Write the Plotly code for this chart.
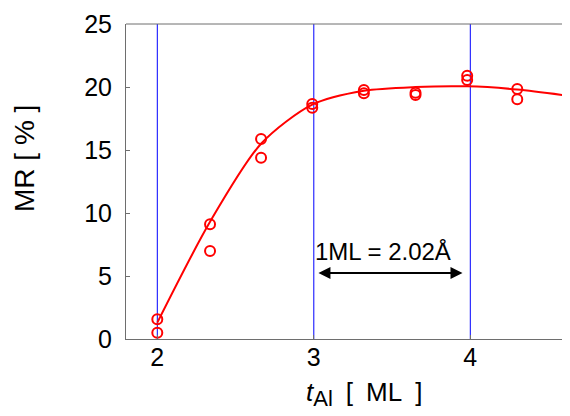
import plotly.graph_objects as go

# Data
t_al = [2.0, 2.337, 2.663, 2.99, 3.32, 3.65, 3.98, 4.30, 4.63]
mr_run1 = [1.56, 9.1, 15.87, 18.65, 19.76, 19.55, 20.9, 19.84, 20.56]
mr_run2 = [0.5, 6.98, 14.39, 18.36, 19.5, 19.37, 20.56, 19.02, 18.78]
fit_x = [2.0, 2.337, 2.663, 2.99, 3.32, 3.65, 3.98, 4.30, 4.63]
fit_y = [1.3, 9.3, 15.5, 18.6, 19.7, 20.0, 20.05, 19.8, 19.3]
x_ticks = [2, 3, 4]
y_ticks = [0, 5, 10, 15, 20, 25]
arrow_span = [3.02, 3.95]
arrow_y = 5.24
note_text = "1ML = 2.02Å"

FONT = "Liberation Sans, Arial, sans-serif"
RED = "#ff0000"
AXC = "#6e6e6e"

W, H = 562, 408          # page adds an 8px body margin
ML, MT, MB, MR = 118, 16, 77, 0

fig = go.Figure()
fig.add_trace(go.Scatter(x=fit_x, y=fit_y, mode="lines",
                         line=dict(color=RED, width=2, shape="spline", smoothing=0.8),
                         hoverinfo="skip", showlegend=False))
for ys in (mr_run1, mr_run2):
    fig.add_trace(go.Scatter(x=t_al, y=ys, mode="markers",
                             marker=dict(symbol="circle-open", size=10, color=RED,
                                         line=dict(width=2, color=RED)),
                             showlegend=False))

fig.update_layout(
    width=W, height=H,
    margin=dict(l=ML, r=MR, t=MT, b=MB, autoexpand=False),
    paper_bgcolor="white", plot_bgcolor="white",
    font=dict(family=FONT, size=25, color="black"),
    xaxis=dict(range=[1.8, 4.637], tickvals=x_ticks, ticks="inside", ticklen=4,
               tickcolor=AXC, showline=True, linecolor=AXC, linewidth=1,
               showgrid=False, zeroline=False,
               tickfont=dict(size=25), ticklabelstandoff=-4),
    yaxis=dict(range=[0, 25], tickvals=y_ticks, ticks="inside", ticklen=4,
               tickcolor=AXC, showline=True, linecolor=AXC, linewidth=1,
               showgrid=False, zeroline=False, tickfont=dict(size=25),
               ticklabelstandoff=8),
)

# blue vertical reference lines at the x ticks
for xv in x_ticks:
    fig.add_shape(type="line", xref="x", yref="paper", x0=xv, x1=xv, y0=0, y1=1,
                  line=dict(color="#0000ff", width=1), layer="below")

# top frame line
fig.add_shape(type="line", xref="paper", yref="paper", x0=0, x1=1, y0=1, y1=1,
              line=dict(color=AXC, width=1))

# double-headed arrow
fig.add_annotation(x=arrow_span[1], y=arrow_y, ax=arrow_span[0], ay=arrow_y,
                   xref="x", yref="y", axref="x", ayref="y", text="",
                   showarrow=True, arrowhead=2, arrowside="end+start",
                   arrowsize=1.2, arrowwidth=2, arrowcolor="black")
fig.add_annotation(x=arrow_span[0], y=5.8, xref="x", yref="y", text=note_text,
                   showarrow=False, xanchor="left", yanchor="bottom",
                   borderpad=0, xshift=-3,
                   font=dict(size=24, color="black"))

# axis titles (page pixel positions, minus 8px body margin)
pw, ph = W - ML - MR, H - MT - MB
def px2paper(px, py):
    return (px - 8 - ML) / pw, 1 - (py - 8 - MT) / ph

x0, y0 = px2paper(24, 159)
fig.add_annotation(x=x0, y=y0, xref="paper", yref="paper", text="MR [ % ]",
                   xanchor="center", yanchor="middle",
                   showarrow=False, textangle=-90, font=dict(size=28))
x1, y1 = px2paper(364, 394)
fig.add_annotation(x=x1, y=y1, xref="paper", yref="paper",
                   text="<i>t</i><sub><span style='font-size:22px'>Al</span></sub>"
                        "\u2002[\u2002ML\u2002]",
                   xanchor="center", yanchor="middle",
                   showarrow=False, font=dict(size=26))

fig.write_html("out.html")
